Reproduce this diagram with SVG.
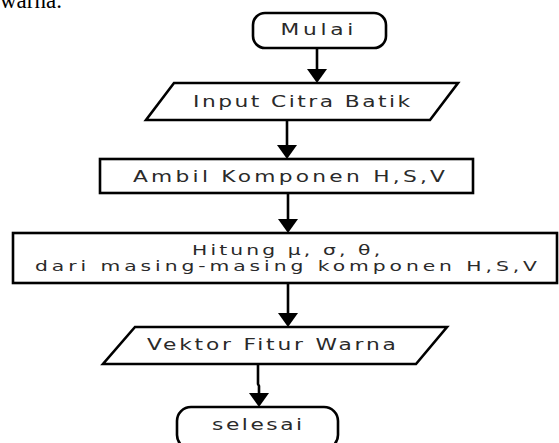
<svg xmlns="http://www.w3.org/2000/svg" width="559" height="443" viewBox="0 0 559 443">
<style>
.box{fill:#fff;stroke:#000;stroke-width:2.6}
.lbl{font-family:"DejaVu Sans","Verdana",sans-serif;fill:#2a2a2a}
.con{fill:none;stroke:#000;stroke-width:2.6}
.cap{font-family:"Liberation Serif","Times New Roman",serif;font-size:23px;fill:#000}
</style>
<defs>
<marker id="ah" markerUnits="userSpaceOnUse" markerWidth="14" markerHeight="20" refX="5" refY="10" orient="auto">
<path d="M0,0 L14,10 L0,20 z" fill="#000"/>
</marker>
</defs>
<rect width="559" height="443" fill="#fff"/>
<text class="cap" x="0" y="8">warna.</text>
<g id="connectors">
<path class="con" d="M317,48 L317,74" marker-end="url(#ah)"/>
<path class="con" d="M287,120 L287,150" marker-end="url(#ah)"/>
<path class="con" d="M288,193 L288,224" marker-end="url(#ah)"/>
<path class="con" d="M288,283 L288,318" marker-end="url(#ah)"/>
<path class="con" d="M258,364 L258,384 L259,386 L259,398" marker-end="url(#ah)"/>
</g>
<g id="mulai">
<rect class="box" x="253" y="13" width="133" height="35" rx="12"/>
<text class="lbl" font-size="15" transform="translate(317,35) scale(1.45,1)" x="-25.2" y="0" textLength="50.3" lengthAdjust="spacing">Mulai</text>
</g>
<g id="input">
<polygon class="box" points="174,83 458,83 430,120 146,120"/>
<text class="lbl" font-size="15" transform="translate(301.5,107) scale(1.45,1)" x="-74.8" y="0" textLength="149.7" lengthAdjust="spacing">Input Citra Batik</text>
</g>
<g id="ambil">
<rect class="box" x="100" y="159" width="373" height="34"/>
<text class="lbl" font-size="15" transform="translate(289,182) scale(1.45,1)" x="-107.6" y="0" textLength="215.2" lengthAdjust="spacing">Ambil Komponen H,S,V</text>
</g>
<g id="hitung">
<rect class="box" x="13" y="233" width="544" height="50"/>
<text class="lbl" font-size="14" transform="translate(286,255) scale(1.45,1)" x="-64.8" y="0" textLength="129.7" lengthAdjust="spacing">Hitung μ, σ, θ,</text>
<text class="lbl" font-size="14" transform="translate(286,271) scale(1.45,1)" x="-173.1" y="0" textLength="346.2" lengthAdjust="spacing">dari masing-masing komponen H,S,V</text>
</g>
<g id="vektor">
<polygon class="box" points="135,327 447,327 416,364 103,364"/>
<text class="lbl" font-size="15" transform="translate(271.5,350) scale(1.45,1)" x="-85.9" y="0" textLength="171.7" lengthAdjust="spacing">Vektor Fitur Warna</text>
</g>
<g id="selesai">
<rect class="box" x="177" y="407" width="161" height="42" rx="14"/>
<text class="lbl" font-size="15" transform="translate(257,430) scale(1.45,1)" x="-31" y="0" textLength="62.1" lengthAdjust="spacing">selesai</text>
</g>
</svg>
